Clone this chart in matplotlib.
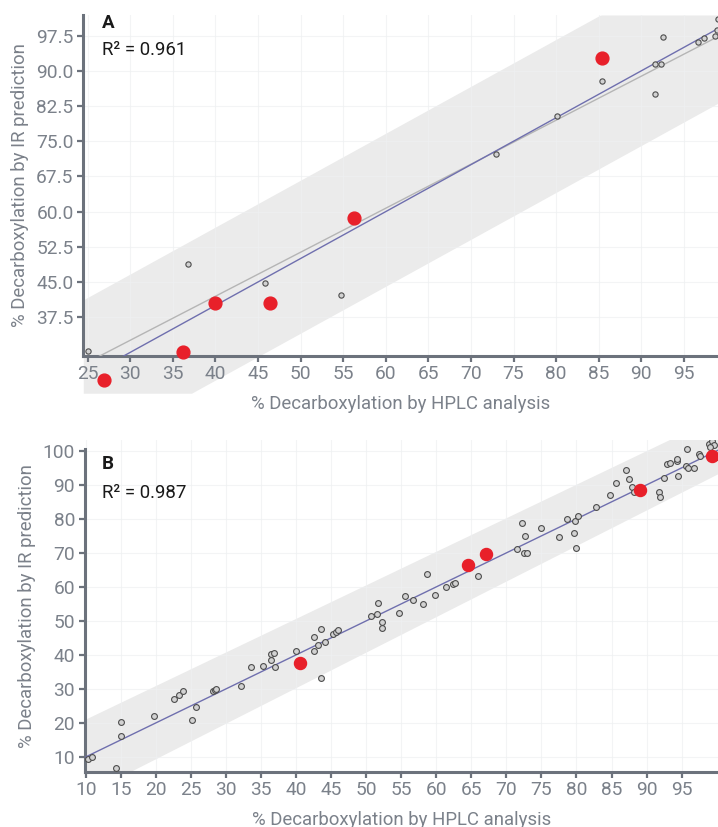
import matplotlib.pyplot as plt
import numpy as np

plt.rcParams['font.family'] = ['Roboto', 'DejaVu Sans']

# panel A: calibration points (grey) and test points (red)
a_hplc = [25.1, 36.8, 45.8, 54.7, 72.9, 80.1, 85.4, 91.65, 92.3, 91.65,
          92.6, 96.6, 97.3, 98.6, 98.9, 99.0]
a_ir = [30.2, 48.8, 44.7, 42.3, 72.2, 80.3, 87.8, 91.4, 91.4, 85.1,
        97.2, 96.1, 96.9, 97.4, 98.6, 101.0]
a_red_hplc = [26.9, 36.2, 40.0, 46.4, 56.3, 85.4]
a_red_ir = [24.1, 30.0, 40.5, 40.5, 58.6, 92.7]
a_r2 = 0.961
a_fit = (0.938, 4.44)      # slope, intercept of grey fit line
a_band = (16.7, -15.9)     # offsets of the band around y = x
a_band_floor = 21.3

# panel B
b_hplc = [10.2, 10.8, 14.3, 15.0, 15.0, 19.7, 22.5, 23.3, 23.8, 25.1,
          25.7, 28.1, 28.4, 28.6, 32.1, 33.6, 35.2, 36.4, 36.4, 36.8,
          36.9, 39.9, 42.6, 42.6, 43.1, 43.5, 43.5, 44.1, 45.3, 45.7,
          45.9, 50.6, 51.5, 51.6, 52.3, 52.3, 54.7, 55.5, 56.7, 58.1,
          58.7, 59.8, 61.4, 62.3, 62.7, 66.0, 71.5, 72.2, 72.7, 72.5,
          73.0, 75.0, 77.5, 78.7, 79.7, 79.9, 79.8, 80.2, 82.8, 84.8,
          85.6, 87.0, 87.5, 87.9, 88.2, 91.8, 91.9, 92.5, 92.9, 93.3,
          94.3, 94.4, 94.5, 95.7, 95.9, 95.8, 96.8, 97.5, 97.7, 98.9,
          99.4, 99.6, 99.1, 100.0]
b_ir = [9.2, 10.0, 6.6, 20.3, 16.2, 21.9, 27.0, 28.3, 29.3, 20.8,
        24.7, 29.3, 29.6, 29.8, 30.9, 36.5, 36.7, 38.5, 40.2, 40.6,
        36.5, 41.1, 45.3, 41.1, 42.9, 47.6, 33.3, 43.8, 46.1, 46.8,
        47.2, 51.5, 52.0, 55.2, 49.7, 47.8, 52.4, 57.2, 56.2, 55.0,
        63.8, 57.5, 60.0, 60.9, 61.2, 63.3, 71.1, 78.8, 75.0, 69.9,
        69.9, 77.2, 74.8, 80.0, 75.9, 71.5, 79.5, 80.9, 83.4, 87.0,
        90.6, 94.4, 91.7, 89.5, 88.0, 87.8, 86.5, 92.1, 96.2, 96.4,
        97.1, 97.5, 92.6, 95.6, 95.1, 100.5, 95.1, 99.0, 98.5, 102.0,
        102.8, 101.7, 101.2, 98.3]
b_red_hplc = [40.5, 64.5, 67.1, 89.05, 99.3]
b_red_ir = [37.5, 66.4, 69.7, 88.5, 98.6]
b_r2 = 0.987
b_band_upper = (0.987, 11.3)
b_band_lower = (1.045, -11.4)

GREY = '#7b818a'
SPINE = '#6c727c'
BAND = '#ebebeb'
BLUE = '#6f6fae'
RED = '#e8202a'


def style_axes(ax, xticks, yticks, yfmt):
    for side in ['top', 'right']:
        ax.spines[side].set_visible(False)
    for side in ['left', 'bottom']:
        ax.spines[side].set_color(SPINE)
        ax.spines[side].set_linewidth(2.2)
    ax.set_xticks(xticks)
    ax.set_yticks(yticks)
    ax.set_yticklabels([yfmt.format(v) for v in yticks])
    ax.tick_params(colors=SPINE, labelcolor=GREY, labelsize=13.8,
                   length=4.5, width=1.6, pad=2.5)
    ax.grid(color='#eef0f2', linewidth=0.8, alpha=0.7)
    ax.set_xlabel('% Decarboxylation by HPLC analysis', color=GREY,
                  fontsize=13.4, labelpad=8)
    ax.set_ylabel('% Decarboxylation by IR prediction', color=GREY,
                  fontsize=13.4, labelpad=5)


fig = plt.figure(figsize=(7.18, 8.27), dpi=100)

# ---- A ----
ax = fig.add_axes([0.116, 0.5699, 0.884, 0.412])
ax.set_xlim(24.5, 99.0)
ax.set_ylim(29.3, 101.9)
xs = np.linspace(24.5, 99.0, 300)
upper = np.minimum(xs + a_band[0], 101.9)
lower = np.maximum(xs + a_band[1], a_band_floor)
ax.fill_between(xs, lower, upper, color=BAND, lw=0, zorder=1, clip_on=False)
ax.plot(xs, a_fit[0] * xs + a_fit[1], color='#b5b5b5', lw=1.0, zorder=2.6)
ax.plot(xs, xs, color=BLUE, lw=1.0, zorder=3)
ax.plot(a_hplc, a_ir, 'o', ms=3.8, mfc='#d2d2d2', mec='#4d4d4d', mew=0.8,
        zorder=4)
ax.scatter(a_red_hplc, a_red_ir, s=85, color=RED, zorder=5, clip_on=False)
style_axes(ax, np.arange(25, 100, 5), np.arange(37.5, 100, 7.5), '{:.1f}')
ax.text(0.029, 0.962, 'A', transform=ax.transAxes, fontsize=13.5,
        fontweight='bold', color='#1a1a1a', va='baseline')
ax.text(0.029, 0.8826, f'R² = {a_r2}', transform=ax.transAxes,
        fontsize=13.4, color='#1a1a1a', va='baseline')

# ---- B ----
ax = fig.add_axes([0.118, 0.0669, 0.882, 0.401])
ax.set_xlim(9.8, 100.2)
ax.set_ylim(5.6, 103.2)
xs = np.linspace(9.8, 100.2, 300)
ax.fill_between(xs, b_band_lower[0] * xs + b_band_lower[1],
                b_band_upper[0] * xs + b_band_upper[1],
                color=BAND, lw=0, zorder=1)
ax.plot(xs, xs, color=BLUE, lw=1.0, zorder=3)
ax.plot(b_hplc, b_ir, 'o', ms=4.2, mfc='#d2d2d2', mec='#4d4d4d', mew=0.8,
        zorder=4)
ax.scatter(b_red_hplc, b_red_ir, s=75, color=RED, zorder=5)
style_axes(ax, np.arange(10, 100, 5), np.arange(10, 101, 10), '{:.0f}')
ax.spines['left'].set_bounds(5.6, 100.6)
ax.text(0.027, 0.912, 'B', transform=ax.transAxes, fontsize=13.5,
        fontweight='bold', color='#1a1a1a', va='baseline')
ax.text(0.027, 0.826, f'R² = {b_r2}', transform=ax.transAxes,
        fontsize=13.4, color='#1a1a1a', va='baseline')

fig.savefig('out.png', dpi=100)
